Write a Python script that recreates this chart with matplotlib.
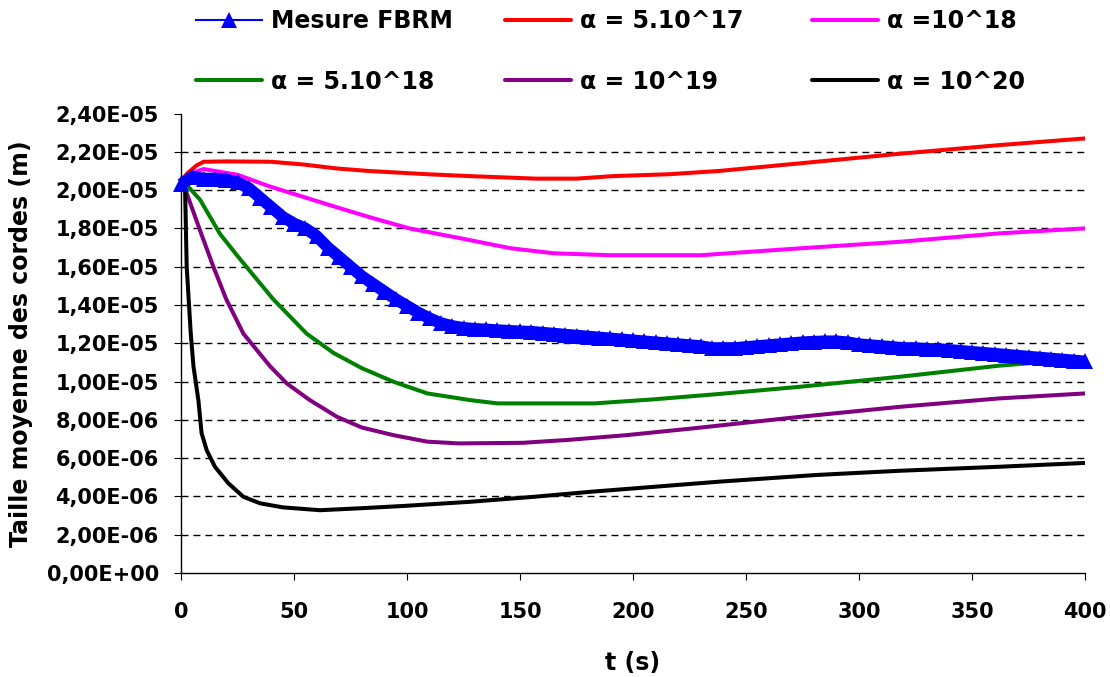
import matplotlib
matplotlib.use('Agg')
import matplotlib.pyplot as plt
import numpy as np
from matplotlib.ticker import FuncFormatter, MultipleLocator
from matplotlib.lines import Line2D

# Mesure FBRM (every 5 s), values in micrometres
t_fbrm = np.arange(0, 405, 5)
fbrm = [20.3, 20.7, 20.6, 20.6, 20.55, 20.4, 20.1, 19.6, 19.1, 18.6,
        18.25, 18.0, 17.6, 17.0, 16.5, 16.0, 15.5, 15.1, 14.7, 14.3,
        13.95, 13.6, 13.3, 13.05, 12.9, 12.8, 12.75, 12.72, 12.68, 12.65,
        12.62, 12.6, 12.55, 12.5, 12.45, 12.4, 12.35, 12.3, 12.25, 12.2,
        12.15, 12.1, 12.05, 12.0, 11.95, 11.9, 11.85, 11.75, 11.75, 11.75,
        11.8, 11.85, 11.9, 11.95, 12.0, 12.05, 12.08, 12.1, 12.1, 12.05,
        11.95, 11.9, 11.85, 11.8, 11.75, 11.75, 11.7, 11.7, 11.65, 11.6,
        11.55, 11.5, 11.45, 11.4, 11.35, 11.3, 11.25, 11.2, 11.15, 11.1, 11.05]

t_a1 = [0, 3, 7, 10, 20, 40, 54, 69, 83, 109, 128, 157, 175, 191, 216, 238, 274, 318, 362, 400]
a1 = [20.5, 20.9, 21.3, 21.48, 21.5, 21.48, 21.34, 21.13, 21.0, 20.83, 20.73, 20.6, 20.6,
      20.73, 20.83, 21.0, 21.4, 21.9, 22.35, 22.7]

t_a2 = [0, 5, 10, 25, 39, 54, 69, 83, 101, 123, 146, 165, 190, 230, 274, 318, 362, 400]
a2 = [20.5, 20.9, 21.1, 20.8, 20.2, 19.65, 19.1, 18.6, 18.0, 17.5, 16.96, 16.7, 16.6, 16.6,
      16.96, 17.3, 17.74, 18.0]

t_a3 = [0, 3, 8.4, 17.3, 25.4, 40.8, 55.6, 67.4, 80, 94, 109, 128, 140, 183, 209, 238, 274, 318, 362, 400]
a3 = [20.5, 20.2, 19.5, 17.7, 16.5, 14.3, 12.5, 11.5, 10.7, 9.99, 9.38, 9.03, 8.86, 8.86,
      9.07, 9.35, 9.73, 10.25, 10.83, 11.2]

t_a4 = [0, 2, 9, 14.3, 20, 27.6, 39.4, 46.8, 57, 69, 80, 94, 109, 123, 151, 171, 197, 227,
        274, 318, 362, 400]
a4 = [20.5, 20.0, 17.7, 16.0, 14.3, 12.5, 10.8, 9.9, 9.03, 8.16, 7.6, 7.2, 6.86, 6.77, 6.8,
      6.95, 7.2, 7.56, 8.16, 8.68, 9.12, 9.38]

t_a5 = [0, 1.8, 2.5, 4.3, 5.5, 7.7, 9.1, 11.4, 15, 21, 27.6, 35, 45, 61.5, 79, 98, 128, 156,
        182, 209, 238, 281, 318, 362, 400]
a5 = [20.5, 20.0, 16.0, 12.5, 10.8, 9.0, 7.3, 6.4, 5.55, 4.68, 3.98, 3.64, 3.43, 3.28, 3.38,
      3.5, 3.72, 3.98, 4.25, 4.5, 4.77, 5.12, 5.34, 5.55, 5.75]

labels = ['Mesure FBRM', 'α = 5.10^17', 'α =10^18', 'α = 5.10^18', 'α = 10^19', 'α = 10^20']
colors = ['#0000FF', '#FF0000', '#FF00FF', '#008000', '#800080', '#000000']

yticks = np.arange(0, 2.41e-5, 2e-6)

# tick styling up front
plt.rcParams['xtick.direction'] = 'out'
plt.rcParams['ytick.direction'] = 'out'
plt.rcParams['xtick.major.size'] = 5
plt.rcParams['ytick.major.size'] = 5
plt.rcParams['xtick.major.pad'] = 16
plt.rcParams['ytick.major.pad'] = 11
plt.rcParams['xtick.labelsize'] = 15
plt.rcParams['ytick.labelsize'] = 15
plt.rcParams['font.weight'] = 'bold'

fig = plt.figure(figsize=(11.1, 6.77), dpi=100)
ax = fig.add_axes([0.1631, 0.1536, 0.8144, 0.6787])
ax.set_xlim(0, 400)
ax.set_ylim(0, 2.4e-5)

# dashed gridlines (not at 0 or top)
ax.hlines(yticks[1:-1], 0, 400, colors='k', linewidth=1, linestyles=(0, (5, 3.6)), zorder=0)

um = 1e-6
series = [(t_a1, a1), (t_a2, a2), (t_a3, a3), (t_a4, a4), (t_a5, a5)]
for (tt, vv), c in zip(series, colors[1:]):
    ax.plot(tt, np.array(vv) * um, color=c, linewidth=2.9, solid_capstyle='round', zorder=2)
# FBRM: thick band plus dense triangles
ax.plot(t_fbrm, np.array(fbrm) * um, color=colors[0], linewidth=8.5, solid_capstyle='butt',
        clip_on=False, zorder=3)
ax.plot(t_fbrm, np.array(fbrm) * um, color=colors[0], linewidth=0, marker='^',
        markersize=11, markeredgewidth=0, clip_on=False, zorder=3)

# axes look
for s in ['top', 'right']:
    ax.spines[s].set_visible(False)
for s in ['left', 'bottom']:
    ax.spines[s].set_linewidth(1)
ax.xaxis.set_major_locator(MultipleLocator(50))
ax.set_yticks(yticks)
ax.yaxis.set_major_formatter(FuncFormatter(lambda v, p: ('%.2E' % v).replace('.', ',')))

ax.set_xlabel('t (s)', fontsize=17, fontweight='bold')
ax.xaxis.set_label_coords(0.5, -0.17)
ax.set_ylabel('Taille moyenne des cordes (m)', fontsize=17, fontweight='bold')
ax.yaxis.set_label_coords(-0.164, 0.5)

# legend: three columns placed by hand, two rows each
handles = [Line2D([], [], color=colors[0], linewidth=1.5, marker='^', markersize=12,
                  markeredgewidth=0)]
handles += [Line2D([], [], color=c, linewidth=2.9, solid_capstyle='round') for c in colors[1:]]
col_x = [196, 505, 812]
for i, x in enumerate(col_x):
    fig.legend([handles[i], handles[i + 3]], [labels[i], labels[i + 3]],
               loc='upper left', bbox_to_anchor=(x / 1110, 1 - 9 / 677),
               frameon=False, borderpad=0, borderaxespad=0, handlelength=2.8,
               handletextpad=0.38, labelspacing=1.55,
               prop={'size': 17, 'weight': 'bold'})

fig.savefig('out.png', dpi=100)
